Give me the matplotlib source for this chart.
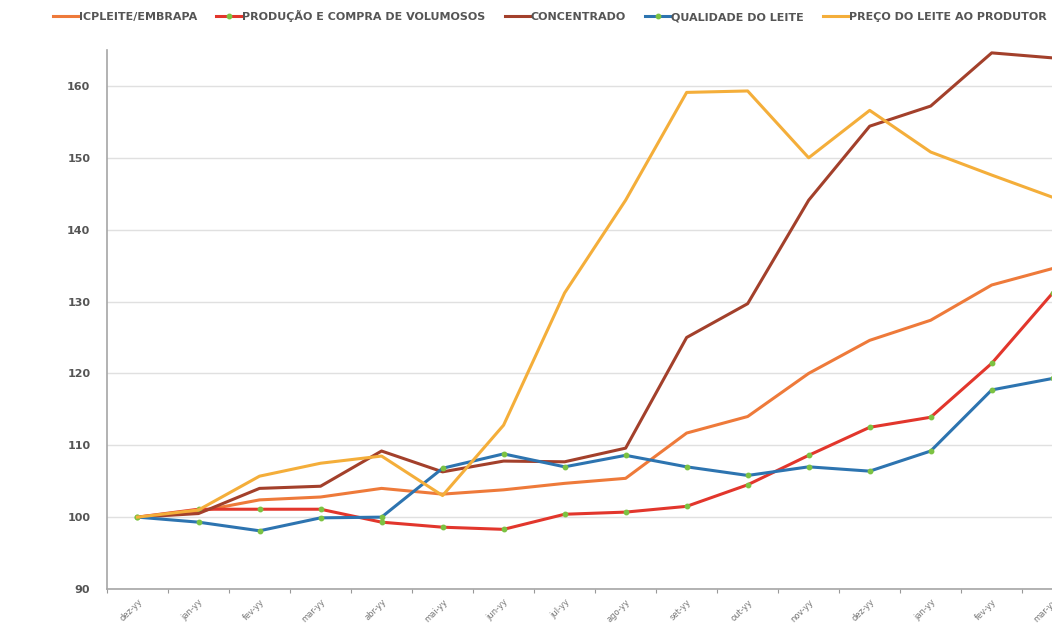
import matplotlib
matplotlib.use("Agg")
import matplotlib.pyplot as plt

# months (year hidden as "yy" in the source)
meses = ["dez-yy", "jan-yy", "fev-yy", "mar-yy", "abr-yy", "mai-yy", "jun-yy", "jul-yy",
         "ago-yy", "set-yy", "out-yy", "nov-yy", "dez-yy", "jan-yy", "fev-yy", "mar-yy"]

icpleite = [100, 100.8, 102.4, 102.8, 104.0, 103.2, 103.8, 104.7,
            105.4, 111.7, 114.0, 120.0, 124.6, 127.4, 132.3, 134.6]
volumosos = [100, 101.1, 101.1, 101.1, 99.3, 98.6, 98.3, 100.4,
             100.7, 101.5, 104.5, 108.6, 112.5, 113.9, 121.4, 131.2]
concentrado = [100, 100.5, 104.0, 104.3, 109.2, 106.3, 107.8, 107.7,
               109.6, 125.0, 129.7, 144.1, 154.4, 157.2, 164.6, 163.9]
qualidade = [100, 99.3, 98.1, 99.9, 100.0, 106.8, 108.8, 107.0,
             108.6, 107.0, 105.8, 107.0, 106.4, 109.2, 117.7, 119.3]
preco = [100, 101.0, 105.7, 107.5, 108.5, 103.0, 112.8, 131.2,
         144.1, 159.1, 159.3, 150.0, 156.6, 150.8, 147.6, 144.5]

fig = plt.figure(figsize=(10.52, 6.25), dpi=100)
# plot area runs past the right edge, like the cropped original
ax = fig.add_axes([0.1017, 0.0576, 0.928, 0.8624])

x = list(range(len(meses)))
lw = 2.2
ax.plot(x, icpleite, color="#EE7A3A", lw=lw, label="ICPLEITE/EMBRAPA")
ax.plot(x, volumosos, color="#E2362C", lw=lw, marker="o", ms=3.2,
        mfc="#7CC242", mec="#7CC242", label="PRODUÇÃO E COMPRA DE VOLUMOSOS")
ax.plot(x, concentrado, color="#A3402B", lw=lw, label="CONCENTRADO")
ax.plot(x, qualidade, color="#2D74B0", lw=lw, marker="o", ms=3.2,
        mfc="#7CC242", mec="#7CC242", label="QUALIDADE DO LEITE")
ax.plot(x, preco, color="#F4AE3A", lw=lw, label="PREÇO DO LEITE AO PRODUTOR")

ax.set_xlim(-0.5, len(meses) - 0.5)
ax.set_ylim(90, 165)
ax.set_yticks(range(90, 161, 10))
ax.grid(axis="y", color="#E0E0E0", lw=1)
ax.set_axisbelow(True)

ax.set_xticks([i - 0.5 for i in range(len(meses) + 1)])
ax.set_xticklabels([])
ax.set_xticks(x, minor=True)
ax.set_xticklabels(meses, minor=True, rotation=45, ha="right",
                   rotation_mode="anchor", fontsize=6, color="#777777")
ax.tick_params(axis="x", which="major", length=3, color="#999999")
ax.tick_params(axis="x", which="minor", length=0, pad=6)
ax.tick_params(axis="y", length=0, pad=12, labelsize=8, labelcolor="#555555")
for lab in ax.get_yticklabels():
    lab.set_fontweight("bold")

for s in ["top", "right"]:
    ax.spines[s].set_visible(False)
ax.spines["left"].set_color("#A6A6A6")
ax.spines["bottom"].set_color("#A6A6A6")
ax.spines["left"].set_linewidth(1.2)
ax.spines["bottom"].set_linewidth(1.2)

leg = fig.legend(loc="upper left", bbox_to_anchor=(0.041, 1.0), ncol=5,
                 frameon=False, fontsize=8, handlelength=2.3, handletextpad=0.05,
                 columnspacing=1.7)
for t in leg.get_texts():
    t.set_color("#555555")
    t.set_fontweight("bold")

fig.savefig("out.png", dpi=100)
